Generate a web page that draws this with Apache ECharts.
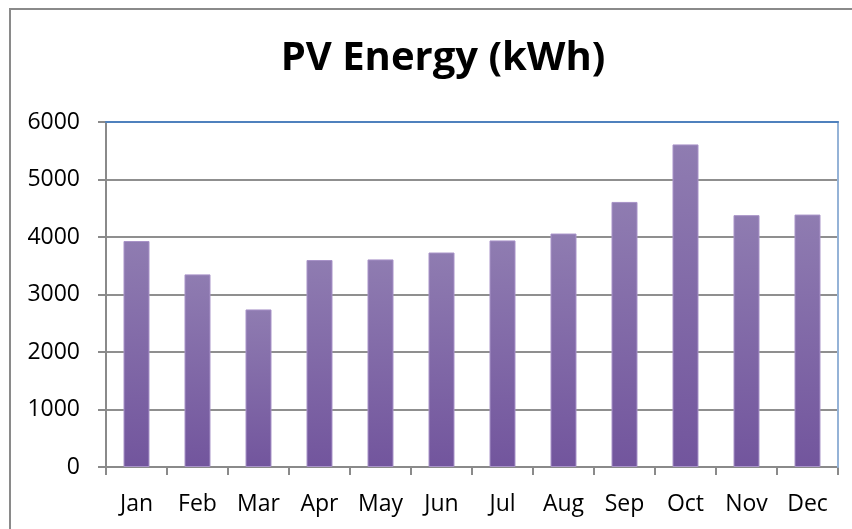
<!DOCTYPE html>
<html><head><meta charset="utf-8">
<script src="https://cdn.jsdelivr.net/npm/echarts@6/dist/echarts.min.js"></script>
<style>html,body{margin:0;padding:0;background:#fff}#c{width:852px;height:529px}</style>
</head><body><div id="c"></div>
<script>
const titleText = 'PV Energy (kWh)';
const months = ['Jan','Feb','Mar','Apr','May','Jun','Jul','Aug','Sep','Oct','Nov','Dec'];
const energy = [3930, 3350, 2740, 3600, 3610, 3730, 3940, 4060, 4610, 5610, 4380, 4390];
const yMin = 0, yMax = 6000, yStep = 1000;

const chart = echarts.init(document.getElementById('c'));
const font = 'Open Sans';
chart.setOption({
  animation: false,
  title: { text: titleText, left: 438, top: 34, textAlign: 'center',
    textStyle: { fontFamily: font, fontWeight: 'bold', fontSize: 40, color: '#000' } },
  graphic: [{ type: 'rect', shape: { x: 10, y: 9, width: 860, height: 540 }, z: -10,
    style: { fill: 'none', stroke: '#8a8a8a', lineWidth: 2 } }],
  grid: { left: 106, right: 14, top: 122, bottom: 62, containLabel: false },
  xAxis: [{
    type: 'category', data: months, boundaryGap: true,
    axisLine: { onZero: false, lineStyle: { color: '#8a8a8a', width: 2 } },
    axisTick: { show: true, alignWithLabel: false, length: 8, lineStyle: { color: '#8a8a8a', width: 2 } },
    axisLabel: { fontFamily: font, fontSize: 23, color: '#000', margin: 26 }
  }, {
    type: 'category', data: months, position: 'top', z: 5,
    axisLine: { onZero: false, lineStyle: { color: '#4f81bd', width: 2 } },
    axisTick: { show: false }, axisLabel: { show: false }
  }],
  yAxis: [{
    type: 'value', min: yMin, max: yMax, interval: yStep,
    axisLine: { show: true, lineStyle: { color: '#8a8a8a', width: 2 } },
    axisTick: { show: true, length: 8, lineStyle: { color: '#8a8a8a', width: 2 } },
    splitLine: { showMaxLine: false, lineStyle: { color: '#8f8f8f', width: 2 } },
    axisLabel: { fontFamily: font, fontSize: 23, color: '#000', margin: 26, formatter: v => String(v) }
  }, {
    type: 'value', min: yMin, max: yMax, interval: yStep, position: 'right', z: 5,
    axisLine: { show: true, lineStyle: { color: '#95b3d7', width: 2 } },
    axisTick: { show: false }, axisLabel: { show: false }, splitLine: { show: false }
  }],
  series: [{
    type: 'bar', data: energy, barWidth: 26, z: 3,
    itemStyle: {
      color: new echarts.graphic.LinearGradient(0, 0, 0, 1, [
        { offset: 0, color: '#8f7cb1' }, { offset: 1, color: '#72559d' }]),
      borderColor: '#a893c8', borderWidth: 1
    }
  }]
});
</script></body></html>
